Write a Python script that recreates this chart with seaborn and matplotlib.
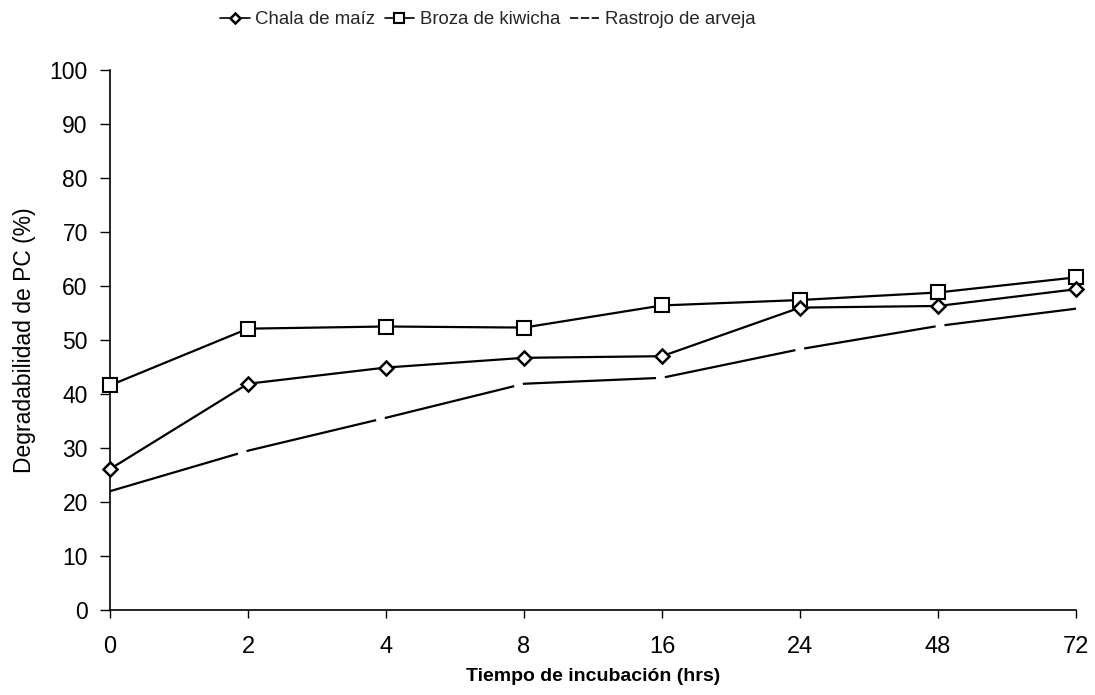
import matplotlib
matplotlib.use("Agg")
import matplotlib.pyplot as plt
import seaborn as sns
import pandas as pd

# Data
tiempos = ["0", "2", "4", "8", "16", "24", "48", "72"]
chala_maiz = [26.1, 41.9, 44.9, 46.7, 47.0, 56.0, 56.3, 59.4]
broza_kiwicha = [41.6, 52.1, 52.5, 52.3, 56.4, 57.4, 58.8, 61.6]
rastrojo_arveja = [22.0, 29.5, 35.6, 41.9, 43.0, 48.3, 52.6, 55.8]
series_names = ["Chala de maíz", "Broza de kiwicha", "Rastrojo de arveja"]
y_ticks = [0, 10, 20, 30, 40, 50, 60, 70, 80, 90, 100]

sns.set_theme(style="white")
plt.rcParams["font.family"] = ["Liberation Sans", "DejaVu Sans"]

df = pd.DataFrame({
    "t": pd.Categorical(tiempos, categories=tiempos, ordered=True),
    "pos": range(len(tiempos)),
    series_names[0]: chala_maiz,
    series_names[1]: broza_kiwicha,
    series_names[2]: rastrojo_arveja,
})

fig = plt.figure(figsize=(10.95, 6.95), dpi=100)
ax = fig.add_axes([110 / 1095, 1 - 610 / 695, (1076 - 110) / 1095, (610 - 70) / 695])

sns.lineplot(data=df, x="pos", y=series_names[0], ax=ax, color="black", lw=1.6,
             marker="D", markersize=7, markerfacecolor="white", markeredgecolor="black",
             markeredgewidth=1.8, label=series_names[0], clip_on=False, zorder=4)
sns.lineplot(data=df, x="pos", y=series_names[1], ax=ax, color="black", lw=1.6,
             marker="s", markersize=10, markerfacecolor="white", markeredgecolor="black",
             markeredgewidth=1.5, label=series_names[1], clip_on=False, zorder=3)
sns.lineplot(data=df, x="pos", y=series_names[2], ax=ax, color="black", lw=1.6,
             label=series_names[2], clip_on=False, zorder=2)
ax.lines[2].set_dashes((60, 4))

ax.set_xlim(0, len(tiempos) - 1)
ax.set_ylim(0, 100)
ax.set_xticks(range(len(tiempos)))
ax.set_xticklabels(tiempos)
ax.set_yticks(y_ticks)

for s in ["top", "right"]:
    ax.spines[s].set_visible(False)
for s in ["left", "bottom"]:
    ax.spines[s].set_color("black")
    ax.spines[s].set_linewidth(1.2)

ax.tick_params(axis="x", direction="out", length=6, width=1, colors="black",
               labelsize=17, pad=13, bottom=True)
ax.tick_params(axis="y", direction="out", length=7, width=1, colors="black",
               labelsize=16.5, pad=9, left=True)

ax.set_xlabel("Tiempo de incubación (hrs)", fontsize=14, color="black", labelpad=7,
              fontweight="bold")
ax.set_ylabel("Degradabilidad de PC (%)", fontsize=16.5, color="black", labelpad=10)

leg = ax.legend(loc="upper center", bbox_to_anchor=(0.391, 1.14), ncol=3, frameon=False,
                fontsize=13.4, handlelength=1.6, columnspacing=0.5, handletextpad=0.3)
hl = leg.get_lines()
for h in hl:
    h.set_linewidth(1.2)
hl[0].set_markersize(5)
hl[1].set_markersize(7)
hl[2].set_dashes((5, 1.5))

fig.savefig("out.png", dpi=100)
